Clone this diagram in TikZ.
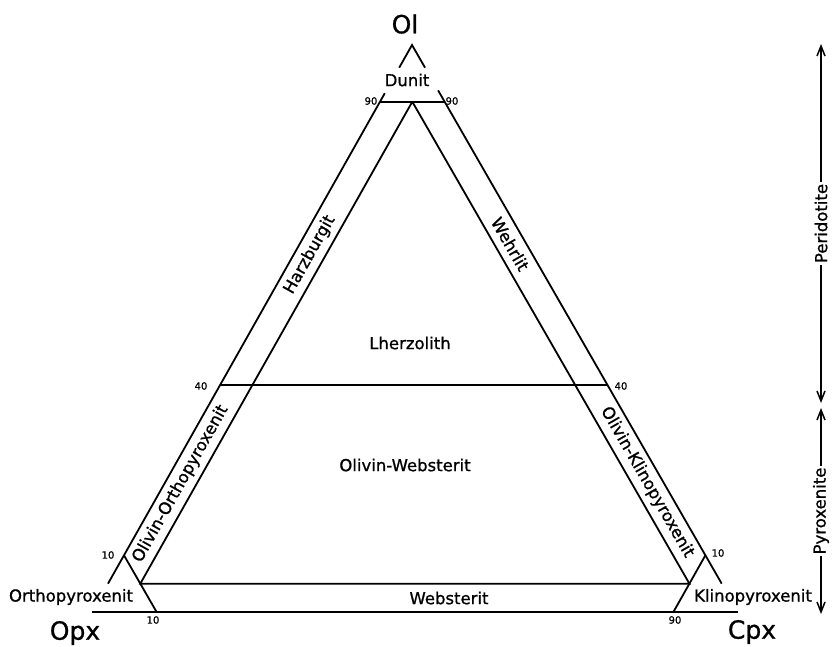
\documentclass[tikz,border=0pt]{standalone}
\usepackage{fontspec}
\setmainfont[FakeBold=1]{DejaVu Sans}
\usetikzlibrary{arrows.meta,calc}

\tikzset{
  fieldlab/.style={font=\fontsize{16.5}{16.5}\selectfont, inner sep=1pt},
  numlab/.style={font=\fontsize{10}{10}\selectfont, inner sep=1pt},
  cornerlab/.style={font=\fontsize{25}{25}\selectfont, inner sep=1pt},
  rangelab/.style={font=\fontsize{16.5}{16.5}\selectfont, rotate=90, fill=white, inner sep=2pt},
  rangearrow/.style={line width=1.5pt, {Straight Barb[length=10pt,width=8pt]}-{Straight Barb[length=10pt,width=8pt]}}
}

\begin{document}
\begin{tikzpicture}[x=1pt, y=-1pt, line width=1.8pt]
  \useasboundingbox (0,0) rectangle (832,647);

  % corners of the triangle
  \coordinate (Ol)  at (412,45);
  \coordinate (Opx) at (92,612);
  \coordinate (Cpx) at (738,612);

  % points on the outer edges
  \coordinate (topL)  at ($0.96*(Ol)+0.04*(Opx)$);
  \coordinate (topR)  at ($0.96*(Ol)+0.04*(Cpx)$);
  \coordinate (edgeL) at ($0.915*(Ol)+0.085*(Opx)$);
  \coordinate (edgeR) at ($0.92*(Ol)+0.08*(Cpx)$);
  \coordinate (lowL)  at ($0.05*(Ol)+0.95*(Opx)$);
  \coordinate (lowR)  at ($0.05*(Ol)+0.95*(Cpx)$);
  \coordinate (ol90L) at ($0.9*(Ol)+0.1*(Opx)$);
  \coordinate (ol90R) at ($0.9*(Ol)+0.1*(Cpx)$);
  \coordinate (ol40L) at ($0.4*(Ol)+0.6*(Opx)$);
  \coordinate (ol40R) at ($0.4*(Ol)+0.6*(Cpx)$);
  \coordinate (ol10L) at ($0.1*(Ol)+0.9*(Opx)$);
  \coordinate (ol10R) at ($0.1*(Ol)+0.9*(Cpx)$);
  \coordinate (cpx10) at ($0.9*(Opx)+0.1*(Cpx)$);
  \coordinate (cpx90) at ($0.1*(Opx)+0.9*(Cpx)$);

  % inner points
  \coordinate (ol90M) at ($0.9*(Ol)+0.05*(Opx)+0.05*(Cpx)$);
  \coordinate (ol5L)  at ($0.05*(Ol)+0.9*(Opx)+0.05*(Cpx)$);
  \coordinate (ol5R)  at ($0.05*(Ol)+0.05*(Opx)+0.9*(Cpx)$);

  % outer triangle
  \draw (topL) -- (Ol) -- (topR);
  \draw (edgeL) -- (lowL);
  \draw (edgeR) -- (lowR);
  \draw (Opx) -- (Cpx);

  % field boundaries
  \draw (ol90L) -- (ol90R);
  \draw (ol40L) -- (ol40R);
  \draw (ol90M) -- (ol5L) -- (ol5R) -- (ol90M);
  \draw (ol10L) -- (cpx10);
  \draw (ol10R) -- (cpx90);

  % corner names
  \node[cornerlab] (olName)  at (405,24)  {Ol};
  \node[cornerlab] (opxName) at (75,633)  {Opx};
  \node[cornerlab] (cpxName) at (752,632) {Cpx};

  % percent marks
  \node[numlab] (n90L) at (371,101) {90};
  \node[numlab] (n90R) at (452,101) {90};
  \node[numlab] (n40L) at (201,386) {40};
  \node[numlab] (n40R) at (621,386) {40};
  \node[numlab] (n10L) at (108,555) {10};
  \node[numlab] (n10R) at (718,553) {10};
  \node[numlab] (n10B) at (153,620) {10};
  \node[numlab] (n90B) at (675,620) {90};

  % rock names
  \node[fieldlab] (dunit) at (407,80)  {Dunit};
  \node[fieldlab] (lherz) at (410,343) {Lherzolith};
  \node[fieldlab] (olweb) at (405,465) {Olivin-Websterit};
  \node[fieldlab] (webst) at (449,598) {Websterit};
  \node[fieldlab] (orthp) at (71,597)  {Orthopyroxenit};
  \node[fieldlab] (klinp) at (753,597) {Klinopyroxenit};
  \node[fieldlab, rotate=60.6]  (harzb) at ($0.63*(Ol)+0.345*(Opx)+0.025*(Cpx)$) {Harzburgit};
  \node[fieldlab, rotate=-60.1] (wehrl) at ($0.649*(Ol)+0.025*(Opx)+0.326*(Cpx)$) {Wehrlit};
  \node[fieldlab, rotate=60.6]  (olorth) at ($0.226*(Ol)+0.749*(Opx)+0.025*(Cpx)$) {Olivin-Orthopyroxenit};
  \node[fieldlab, rotate=-60.1] (olklin) at ($0.229*(Ol)+0.025*(Opx)+0.746*(Cpx)$) {Olivin-Klinopyroxenit};

  % ranges on the right
  \coordinate (perTop) at (821,44);
  \coordinate (perBot) at (821,403);
  \coordinate (pyrTop) at (821,408);
  \coordinate (pyrBot) at (821,614);
  \draw[rangearrow] (perTop) -- node[rangelab] (perLab) {Peridotite} (perBot);
  \draw[rangearrow] (pyrTop) -- node[rangelab] (pyrLab) {Pyroxenite} (pyrBot);
\end{tikzpicture}
\end{document}
